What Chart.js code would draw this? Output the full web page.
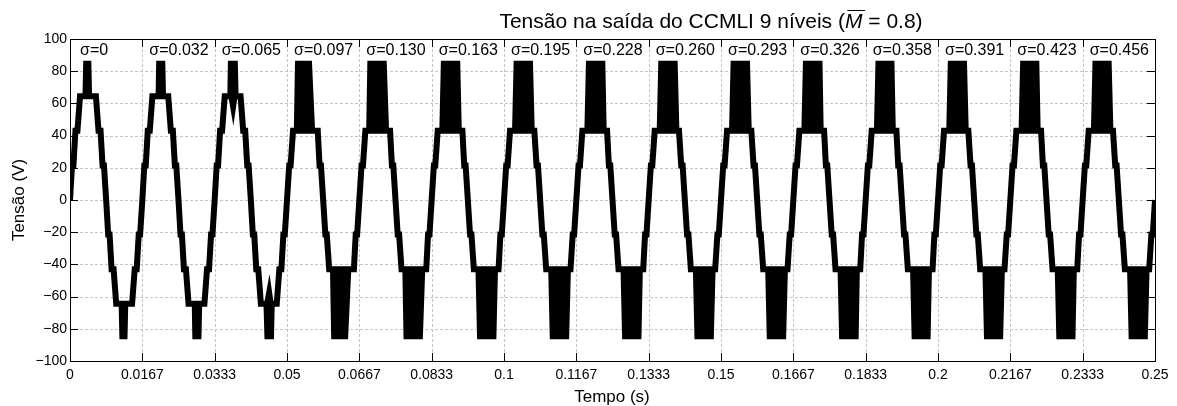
<!DOCTYPE html>
<html>
<head>
<meta charset="utf-8">
<script src="https://cdn.jsdelivr.net/npm/chart.js@4.4.0/dist/chart.umd.min.js"></script>
<style>
  html, body { margin: 0; padding: 0; background: #fff; }
</style>
</head>
<body>
<canvas id="grafico" width="1177" height="406"></canvas>
<script>
const periodo = 1 / 60;
const rotulosSigma = ["σ=0", "σ=0.032", "σ=0.065", "σ=0.097", "σ=0.130", "σ=0.163", "σ=0.195", "σ=0.228",
  "σ=0.260", "σ=0.293", "σ=0.326", "σ=0.358", "σ=0.391", "σ=0.423", "σ=0.456"];
const rotulosTempo = ["0", "0.0167", "0.0333", "0.05", "0.0667", "0.0833", "0.1", "0.1167", "0.1333",
  "0.15", "0.1667", "0.1833", "0.2", "0.2167", "0.2333", "0.25"];
const picoTensao = 86.5;

// linha média do semiciclo positivo (fase em graus, tensão em V)
const escada64 = [[0, 0], [10, 21.5], [17, 21.5], [27, 43], [37, 43], [50, 64.5], [129, 64.5],
  [142, 43], [152, 43], [162, 21.5], [169, 21.5], [180, 0]];
const escada43 = [[0, 0], [11, 21.5], [18, 21.5], [30, 43], [153, 43], [162, 21.5], [169, 21.5], [180, 0]];

// bloco de chaveamento no pico de cada ciclo (graus)
const nivelBase = [64.5, 64.5, 64.5, 43, 43, 43, 43, 43, 43, 43, 43, 43, 43, 43, 43];
const inicioBase = [62, 66, 63, 34, 34, 38, 40, 40, 40, 40, 40, 41, 41, 41, 41];
const inicioTopo = [66, 69, 66, 40, 40, 46, 48, 48, 48, 48, 48, 49, 49, 49, 49];
const fimTopo = [106, 114, 115, 124, 136, 142, 144, 144, 144, 144, 145, 143, 144, 144, 144];
const fimBase = [110, 118, 119, 140, 148, 150, 151, 151, 151, 151, 151, 150, 151, 151, 151];

// "V" preenchido abaixo do pico (só no ciclo sigma=0.065)
const valeFases = [null, null, [68, 93, 114], null, null, null, null, null, null, null, null, null, null, null, null];
const valeFundo = [null, null, 46, null, null, null, null, null, null, null, null, null, null, null, null];

const envSup = [];
const linha = [];
const envInf = [];

nivelBase.forEach((base, k) => {
  const escada = base > 50 ? escada64 : escada43;
  // [fase, linha, envoltória superior, envoltória inferior]
  const pts = escada.map(([f, v]) => [f, v, v, v]);
  pts.push([inicioBase[k], base, base, base], [inicioTopo[k], base, picoTensao, base],
    [fimTopo[k], base, picoTensao, base], [fimBase[k], base, base, base]);
  if (valeFases[k]) {
    const [a, m, b] = valeFases[k];
    pts.push([a, base, picoTensao, base], [m, base, picoTensao, valeFundo[k]], [b, base, picoTensao, base]);
  }
  pts.sort((a, b) => a[0] - b[0]);
  [1, -1].forEach((sinal, h) => {
    pts.forEach(([f, v, s, i]) => {
      const t = (k + (f + h * 180) / 360) * periodo;
      envSup.push({ x: t, y: sinal * s });
      linha.push({ x: t, y: sinal * v });
      envInf.push({ x: t, y: sinal * i });
    });
  });
});

const fonte = "'Liberation Sans', Arial, sans-serif";

const moldura = {
  id: "moldura",
  beforeDatasetsDraw(chart) {
    const { ctx, chartArea: a, scales } = chart;
    ctx.save();
    ctx.strokeStyle = "#c4c4c4";
    ctx.lineWidth = 1;
    ctx.setLineDash([3, 2]);
    scales.x.ticks.forEach(t => {
      const x = Math.round(scales.x.getPixelForValue(t.value)) + 0.5;
      ctx.beginPath(); ctx.moveTo(x, a.top); ctx.lineTo(x, a.bottom); ctx.stroke();
    });
    scales.y.ticks.forEach(t => {
      const y = Math.round(scales.y.getPixelForValue(t.value)) + 0.5;
      ctx.beginPath(); ctx.moveTo(a.left, y); ctx.lineTo(a.right, y); ctx.stroke();
    });
    ctx.restore();
  },
  afterDatasetsDraw(chart) {
    const { ctx, chartArea: a, scales } = chart;
    ctx.save();
    ctx.strokeStyle = "#000";
    ctx.lineWidth = 1;
    ctx.beginPath();
    scales.x.ticks.forEach(t => {
      const x = Math.round(scales.x.getPixelForValue(t.value)) + 0.5;
      ctx.moveTo(x, a.bottom); ctx.lineTo(x, a.bottom - 8);
      ctx.moveTo(x, a.top); ctx.lineTo(x, a.top + 8);
    });
    scales.y.ticks.forEach(t => {
      const y = Math.round(scales.y.getPixelForValue(t.value)) + 0.5;
      ctx.moveTo(a.left, y); ctx.lineTo(a.left + 8, y);
      ctx.moveTo(a.right, y); ctx.lineTo(a.right - 8, y);
    });
    ctx.stroke();
    ctx.strokeRect(Math.round(a.left) + 0.5, Math.round(a.top) + 0.5,
      Math.round(a.right - a.left), Math.round(a.bottom - a.top));

    // rótulos de sigma
    ctx.fillStyle = "#000";
    ctx.font = "16px " + fonte;
    ctx.textBaseline = "alphabetic";
    ctx.textAlign = "left";
    rotulosSigma.forEach((r, i) => {
      const x = scales.x.getPixelForValue(i * periodo) + (i === 0 ? 10 : 7);
      ctx.fillText(r, x, 55);
    });

    // título
    const tam = 21;
    const p1 = "Tensão na saída do CCMLI 9 níveis (";
    const p3 = " = 0.8)";
    ctx.font = tam + "px " + fonte;
    const w1 = ctx.measureText(p1).width, w3 = ctx.measureText(p3).width;
    ctx.font = "italic " + tam + "px " + fonte;
    const wM = ctx.measureText("M").width;
    let x = 711 - (w1 + wM + w3) / 2;
    ctx.font = tam + "px " + fonte;
    ctx.fillText(p1, x, 28);
    x += w1;
    ctx.font = "italic " + tam + "px " + fonte;
    ctx.fillText("M", x, 28);
    ctx.beginPath();
    ctx.moveTo(x + 2.5, 10.5); ctx.lineTo(x + wM + 2.5, 10.5);
    ctx.stroke();
    x += wM;
    ctx.font = tam + "px " + fonte;
    ctx.fillText(p3, x, 28);

    // títulos dos eixos
    ctx.font = "17px " + fonte;
    ctx.textAlign = "center";
    ctx.fillText("Tempo (s)", 612, 402);
    ctx.translate(24, (a.top + a.bottom) / 2);
    ctx.rotate(-Math.PI / 2);
    ctx.fillText("Tensão (V)", 0, 0);
    ctx.restore();
  }
};

new Chart(document.getElementById("grafico"), {
  type: "line",
  data: {
    datasets: [
      { data: envSup, borderWidth: 0, pointRadius: 0, fill: false },
      { data: linha, borderColor: "#000", borderWidth: 6, pointRadius: 0, fill: "-1", backgroundColor: "#000" },
      { data: envInf, borderWidth: 0, pointRadius: 0, fill: "-1", backgroundColor: "#000" }
    ]
  },
  options: {
    responsive: false,
    devicePixelRatio: 1,
    animation: false,
    layout: { padding: { left: 0, right: 22, top: 39, bottom: 0 } },
    plugins: { legend: { display: false }, tooltip: { enabled: false } },
    scales: {
      x: {
        type: "linear",
        min: 0,
        max: 0.25,
        grid: { display: false, drawTicks: false },
        border: { display: false },
        afterFit(s) { s.height = 45; },
        afterBuildTicks(s) { s.ticks = rotulosTempo.map((r, i) => ({ value: i * periodo })); },
        ticks: {
          autoSkip: false, maxRotation: 0, padding: 6, color: "#000",
          font: { family: fonte, size: 14 },
          callback: (v, i) => rotulosTempo[i]
        }
      },
      y: {
        min: -100,
        max: 100,
        grid: { display: false, drawTicks: false },
        border: { display: false },
        afterFit(s) { s.width = 70; },
        ticks: {
          stepSize: 20, padding: 3, color: "#000",
          font: { family: fonte, size: 14 },
          callback: v => (v < 0 ? "\u2212" + (-v) : String(v))
        }
      }
    }
  },
  plugins: [moldura]
});
</script>
</body>
</html>
